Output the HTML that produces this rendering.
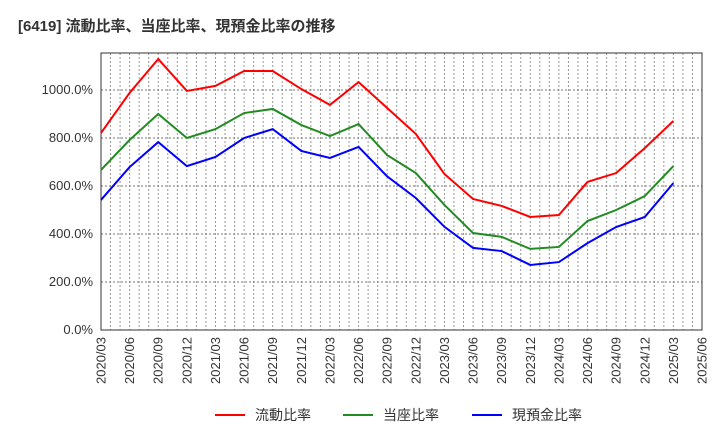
<!DOCTYPE html>
<html><head><meta charset="utf-8"><style>
body{margin:0;background:#fff;font-family:"Liberation Sans","Noto Sans CJK JP",sans-serif}
</style></head><body>
<svg id="c" width="720" height="440" xmlns="http://www.w3.org/2000/svg" font-family="Liberation Sans, Noto Sans CJK JP, sans-serif">
<text x="18" y="31" font-size="15" font-weight="bold" fill="#333">[6419]  流動比率、当座比率、現預金比率の推移</text>
</svg>
<script>
const xLabels=["2020/03","2020/06","2020/09","2020/12","2021/03","2021/06","2021/09","2021/12","2022/03","2022/06","2022/09","2022/12","2023/03","2023/06","2023/09","2023/12","2024/03","2024/06","2024/09","2024/12","2025/03","2025/06"];
const yTicks=[0,200,400,600,800,1000];
const currentRatio=[821,988,1129,996,1017,1079,1079,1004,938,1033,925,817,650,546,517,471,479,617,654,758,871];
const quickRatio=[667,792,900,800,837,904,921,854,808,858,729,654,521,404,388,338,346,454,500,558,683];
const cashRatio=[542,679,783,683,721,800,837,746,717,763,640,550,430,342,329,271,283,362,429,471,612];
const svg=document.getElementById('c');const NS='http://www.w3.org/2000/svg';
const L=101,R=702,T=53,B=330;
const n=xLabels.length-1;
const sx=i=>L+(R-L)*i/n;
const sy=v=>B-v*0.24;
function mk(t,a){const e=document.createElementNS(NS,t);for(const k in a)e.setAttribute(k,a[k]);svg.appendChild(e);return e;}
for(let m=1;m<n*3;m++){const x=L+(R-L)*m/(n*3);
const g=mk('line',{x1:x,x2:x,y1:T,y2:B,stroke:'#999','stroke-dasharray':'2,2','stroke-width':1});

}
yTicks.forEach(v=>{const y=sy(v);
if(v>0){const g=mk('line',{x1:L,x2:R,y1:y,y2:y,stroke:'#777','stroke-dasharray':'2,2','stroke-width':1});

}
const t=mk('text',{x:L-8,y:y+4,'text-anchor':'end','font-size':13,fill:'#333'});t.textContent=v.toFixed(1)+'%';

});
xLabels.forEach((s,i)=>{const x=sx(i);const t=mk('text',{x:0,y:0,transform:`translate(${x+4.5},${B+7}) rotate(-90)`,'text-anchor':'end','font-size':13,fill:'#333'});t.textContent=s;

});
const fr=mk('rect',{x:L,y:T,width:R-L,height:B-T,fill:'none',stroke:'#333','stroke-width':1});


function series(d,c,name){const p=mk('polyline',{points:d.map((v,i)=>sx(i)+','+sy(v)).join(' '),fill:'none',stroke:c,'stroke-width':2});

}
series(currentRatio,'#f00','current-ratio-line');
series(quickRatio,'#228b22','quick-ratio-line');
series(cashRatio,'#00f','cash-ratio-line');
[['流動比率','#f00',215,'legend-current-ratio'],['当座比率','#228b22',343,'legend-quick-ratio'],['現預金比率','#00f',472,'legend-cash-ratio']].forEach(([s,c,x,nm])=>{
const g=document.createElementNS(NS,'g');svg.appendChild(g);


const l=document.createElementNS(NS,'line');l.setAttribute('x1',x);l.setAttribute('x2',x+30);l.setAttribute('y1',415);l.setAttribute('y2',415);l.setAttribute('stroke',c);l.setAttribute('stroke-width',2);g.appendChild(l);
const t=document.createElementNS(NS,'text');t.setAttribute('x',x+40);t.setAttribute('y',420);t.setAttribute('font-size',14);t.setAttribute('fill','#333');t.textContent=s;g.appendChild(t);});
</script>
</body></html>
